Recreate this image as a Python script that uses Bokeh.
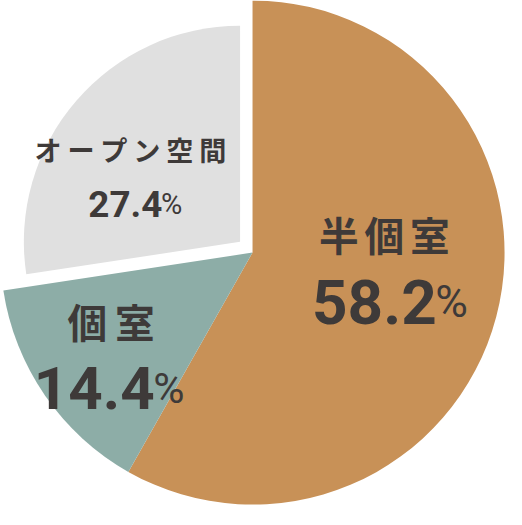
import math
from bokeh.plotting import figure
from bokeh.models import Range1d
from bokeh.core.properties import value
from bokeh.embed import file_html
from bokeh.resources import INLINE

# ---- data ----
categories = ["半個室", "個室", "オープン空間"]
shares = [58.2, 14.4, 27.4]
pct_labels = ["58.2", "14.4", "27.4"]
colors = ["#C89157", "#8DADA7", "#E0E0E0"]

# ---- styling / layout (reference pixel space 522x525) ----
W, H = 522, 525
S = 506 / 522
CX, CY = 260, 260
radii = [260, 260, 223]
explode = [0, 0, 17]
TXT = "#3E3A39"
JP = "Noto Sans CJK JP"
NUM = "Roboto"

p = figure(width=506, height=509, output_backend="svg", toolbar_location=None,
           x_range=Range1d(0, W), y_range=Range1d(0, H), min_border=0)
p.axis.visible = False
p.grid.visible = False
p.outline_line_color = None
p.background_fill_color = "white"
p.border_fill_color = "white"

total = sum(shares)
cum = 0.0
for v, col, r, ex in zip(shares, colors, radii, explode):
    a0 = math.pi / 2 - 2 * math.pi * cum / total
    cum += v
    a1 = math.pi / 2 - 2 * math.pi * cum / total
    mid = (a0 + a1) / 2
    x = CX + ex * math.cos(mid)
    y = (H - CY) + ex * math.sin(mid)
    p.wedge(x=[x], y=[y], radius=r, start_angle=a1, end_angle=a0,
            direction="anticlock", fill_color=col, line_color=None)

# label layout: (name center x, name center y, name size, char step, digits right x, baseline y, digit size, pct size)
lay = [
    (396, 240, 41, 47, 450, 311, 64, 46),
    (114, 330, 41, 49, 159, 400, 62, 44),
    (134, 154, 28, 34, 167, 210, 38, 30),
]
for cat, pl, (nx, ny, ns, st, dx, by, ds, ps) in zip(categories, pct_labels, lay):
    n = len(cat)
    xs = [nx + (i - (n - 1) / 2) * st for i in range(n)]
    p.text(x=xs, y=[H - ny] * n, text=list(cat), text_align="center", text_baseline="middle",
           text_font=value(JP), text_font_style="bold", text_font_size=f"{ns*S:.1f}px",
           text_color=TXT)
    p.text(x=[dx], y=[H - by], text=[pl], text_align="right", text_baseline="alphabetic",
           text_font=value(NUM), text_font_style="bold", text_font_size=f"{ds*S:.1f}px",
           text_color=TXT)
    p.text(x=[dx - 1.5], y=[H - by], text=["%"], text_align="left", text_baseline="alphabetic",
           text_font=value(NUM), text_font_style="normal", text_font_size=f"{ps*S:.1f}px",
           text_color=TXT)

open("out.html", "w").write(file_html(p, INLINE))
